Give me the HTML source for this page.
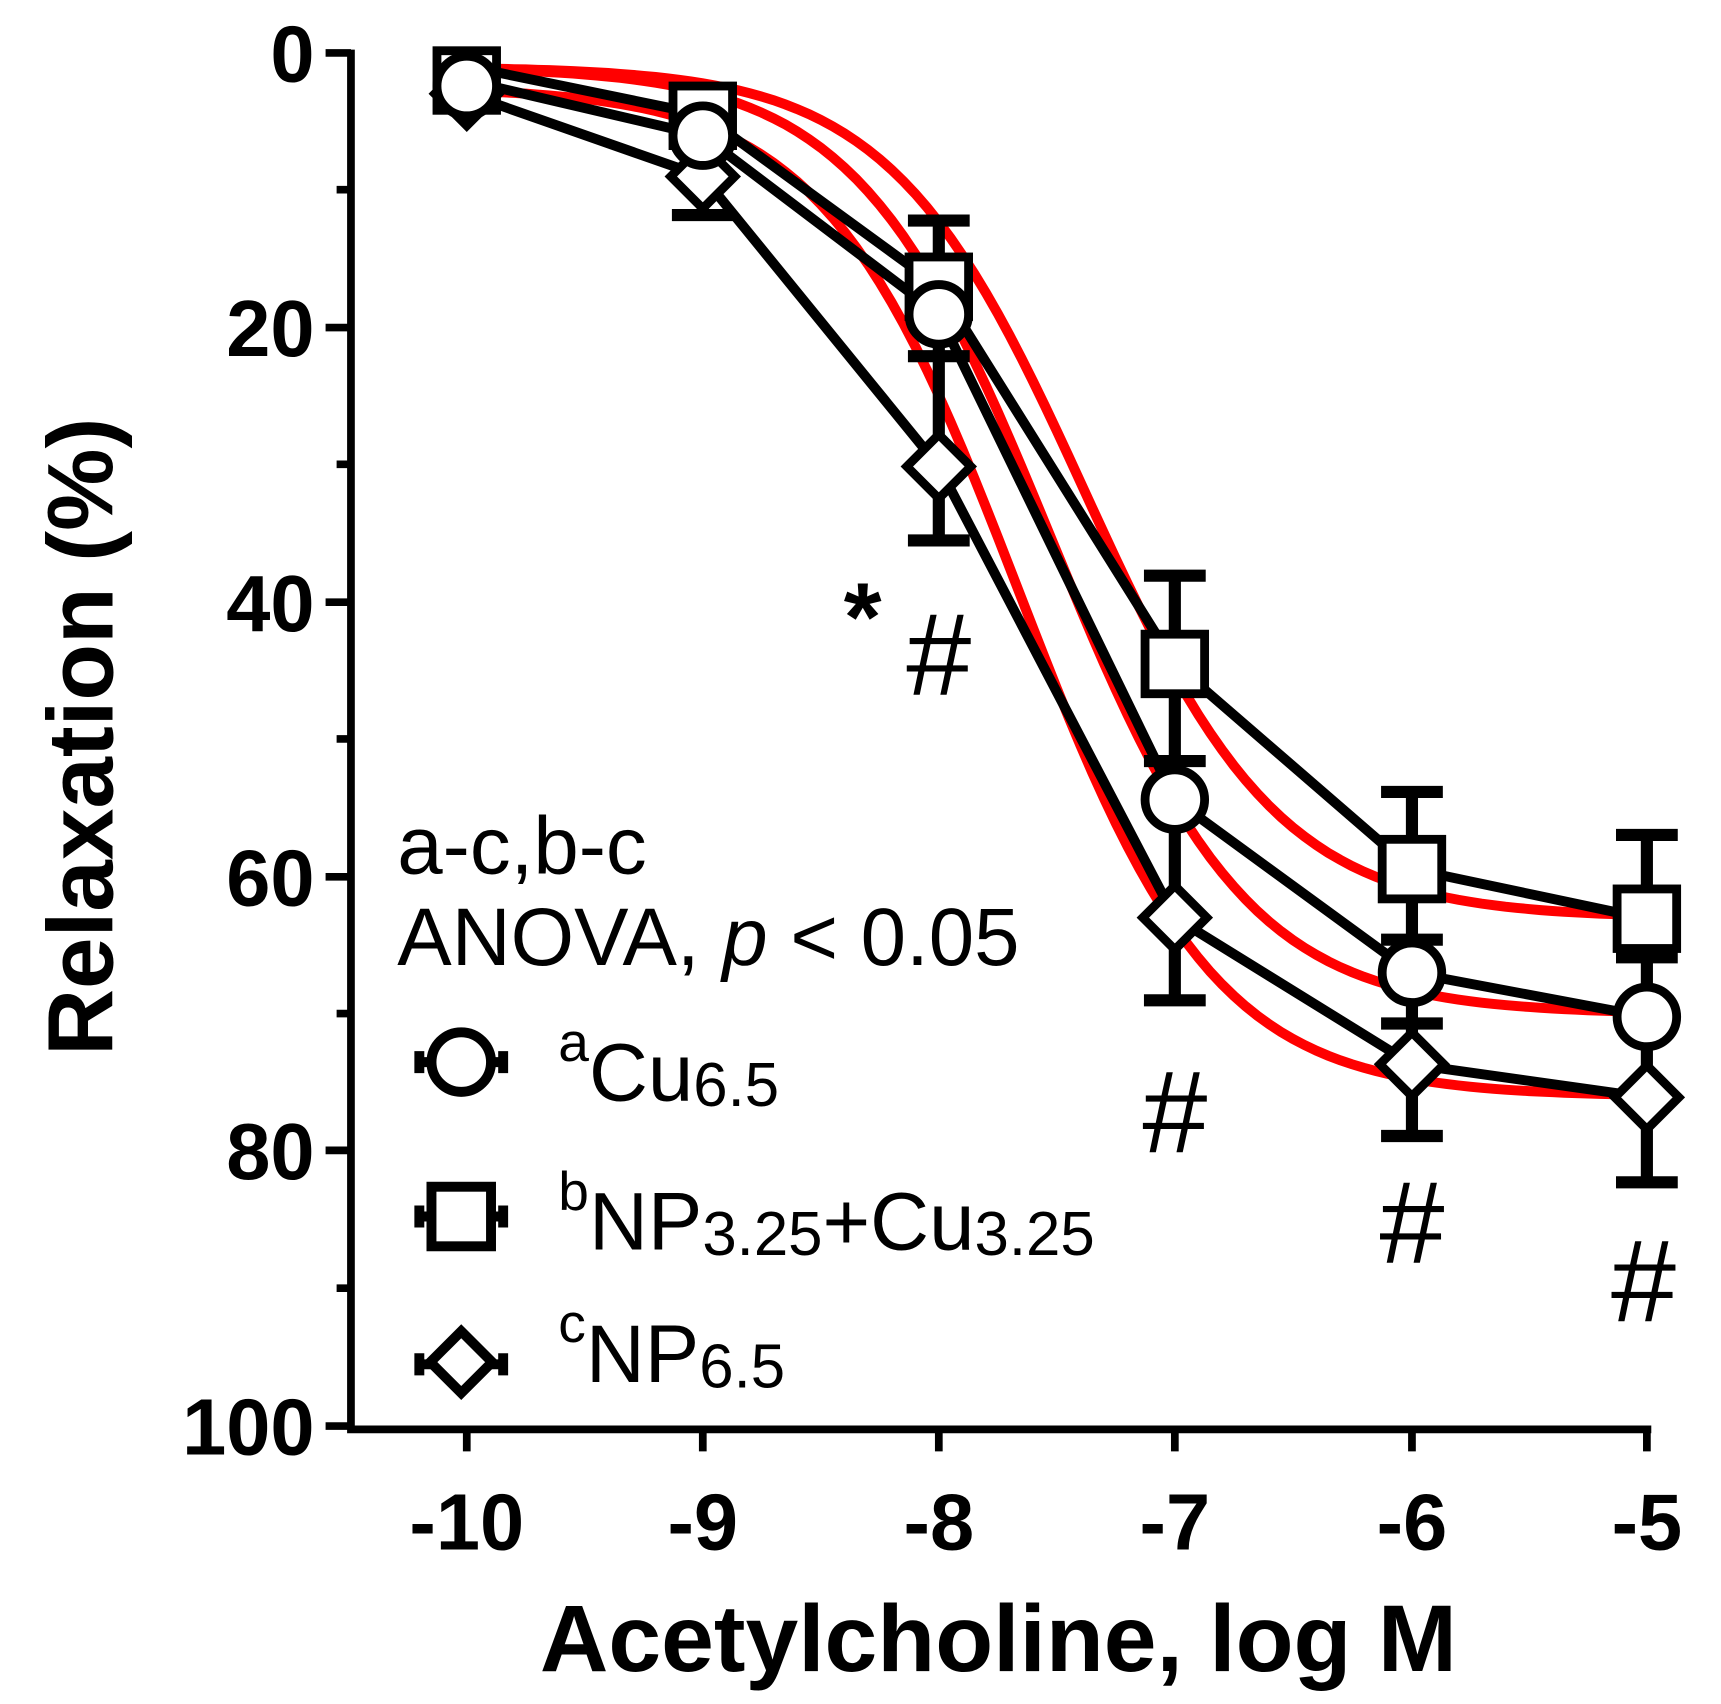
<!DOCTYPE html>
<html><head><style>html,body{margin:0;padding:0;background:#fff}svg{display:block}</style></head>
<body>
<svg id="s" width="1721" height="1704" viewBox="0 0 1560 1545" xmlns="http://www.w3.org/2000/svg" font-family="Liberation Sans, Arial, sans-serif">
<g id="red" fill="none" stroke="#f00" stroke-width="9"></g>
<g stroke="#000" stroke-width="11" fill="none">
<path d="M851 200V490 M823 200H879 M823 490H879 M823 323H879"/>
<path d="M637 110V195 M609 195H665"/>
<path d="M1065 522V907 M1037 522H1093 M1037 690H1093 M1037 907H1093"/>
<path d="M1280 718V1030 M1252 718H1308 M1252 852H1308 M1252 928H1308 M1252 1030H1308"/>
<path d="M1493 757V1072 M1465 757H1521 M1465 868H1521 M1465 1072H1521"/>
<path d="M423 55V100"/>
</g>
<g stroke="#000" stroke-width="9" fill="none">
<polyline points="423,60 637,104 851,260 1065,602 1280,788 1493,833"/>
<polyline points="423,73 637,123 851,285 1065,725 1280,882 1493,922"/>
<polyline points="423,85 637,160 851,423 1065,832 1280,965 1493,995"/>
</g>
<g stroke="#000" stroke-width="8" fill="#fff">
<rect x="396" y="46" width="54" height="54"/>
<rect x="610" y="78" width="54" height="54"/>
<rect x="824" y="233" width="54" height="54"/>
<rect x="1038" y="575" width="54" height="54"/>
<rect x="1253" y="761" width="54" height="54"/>
<rect x="1466" y="806" width="54" height="54"/>
<g id="dia"></g>
<circle cx="423" cy="78" r="27"/>
<circle cx="637" cy="123" r="27"/>
<circle cx="851" cy="285" r="27"/>
<circle cx="1065" cy="725" r="27"/>
<circle cx="1280" cy="882" r="27"/>
<circle cx="1493" cy="922" r="27"/>
</g>
<g stroke="#000" stroke-width="7" fill="none">
<path d="M318 45V1296H1497"/>
<path d="M295 48H318 M305 172H318 M295 297H318 M305 421H318 M295 546H318 M305 670H318 M295 795H318 M305 919H318 M295 1043H318 M305 1168H318 M295 1293H318"/>
<path d="M423 1293V1316 M637 1293V1316 M851 1293V1316 M1065 1293V1316 M1280 1293V1316 M1493 1293V1316"/>
</g>
<g font-weight="bold" font-size="72" text-anchor="end">
<text x="285" y="74">0</text><text x="285" y="323">20</text><text x="285" y="572">40</text>
<text x="285" y="821">60</text><text x="285" y="1069">80</text><text x="285" y="1319">100</text>
</g>
<g font-weight="bold" font-size="72" text-anchor="middle">
<text x="423" y="1405">-10</text><text x="637" y="1405">-9</text><text x="851" y="1405">-8</text>
<text x="1065" y="1405">-7</text><text x="1280" y="1405">-6</text><text x="1493" y="1405">-5</text>
</g>
<text x="905" y="1515" font-weight="bold" font-size="86" text-anchor="middle">Acetylcholine, log M</text>
<text transform="translate(102,668) rotate(-90)" font-weight="bold" font-size="84" text-anchor="middle">Relaxation (%)</text>
<g font-size="74">
<text x="360" y="792">a-c,b-c</text>
<text x="360" y="875">ANOVA, <tspan font-style="italic">p</tspan> &lt; 0.05</text>
</g>
<g stroke="#000" stroke-width="9" fill="#fff">
<path d="M380 963H456 M380 1103H456 M380 1237H456" fill="none"/>
<path d="M380 953V973 M456 953V973 M380 1093V1113 M456 1093V1113 M380 1227V1247 M456 1227V1247" fill="none"/>
<circle cx="418" cy="963" r="27"/>
<rect x="391" y="1076" width="54" height="54"/>
<polygon points="418,1207 446,1235 418,1263 390,1235"/>
</g>
<g font-size="74">
<text x="506" y="998"><tspan font-size="50" dy="-36">a</tspan><tspan dy="36">Cu</tspan><tspan font-size="56" dy="5">6.5</tspan></text>
<text x="506" y="1133"><tspan font-size="50" dy="-36">b</tspan><tspan dy="36">NP</tspan><tspan font-size="56" dy="5">3.25</tspan><tspan dy="-5">+Cu</tspan><tspan font-size="56" dy="5">3.25</tspan></text>
<text x="506" y="1253"><tspan font-size="50" dy="-36">c</tspan><tspan dy="36">NP</tspan><tspan font-size="56" dy="5">6.5</tspan></text>
</g>
<g font-size="106" text-anchor="middle">
<text x="782" y="590" font-weight="bold" font-size="88">*</text>
<text x="851" y="630">#</text>
<text x="1065" y="1045">#</text>
<text x="1280" y="1145">#</text>
<text x="1490" y="1198">#</text>
</g>
</svg>
<script>
var Y=function(v){return 48+v*12.45},X=function(l){return 423+(l+10)*214};
var fits=[[63,-7.38,1.05,1],[70,-7.52,1.05,1],[76,-7.66,1.05,2.5]];
var r=document.getElementById('red'),ns='http://www.w3.org/2000/svg';
fits.forEach(function(f){var d='';for(var l=-10;l<=-4.999;l+=0.05){var v=f[3]+(f[0]-f[3])/(1+Math.pow(10,(f[1]-l)*f[2]));d+=(d?'L':'M')+X(l).toFixed(1)+' '+Y(v).toFixed(1);}
var p=document.createElementNS(ns,'path');p.setAttribute('d',d);r.appendChild(p);});
var g=document.getElementById('dia');
[[423,85],[637,160],[851,423],[1065,832],[1280,965],[1493,995]].forEach(function(c){var p=document.createElementNS(ns,'polygon');var x=c[0],y=c[1];
p.setAttribute('points',x+','+(y-29)+' '+(x+29)+','+y+' '+x+','+(y+29)+' '+(x-29)+','+y);g.appendChild(p);});
</script>
</body></html>
